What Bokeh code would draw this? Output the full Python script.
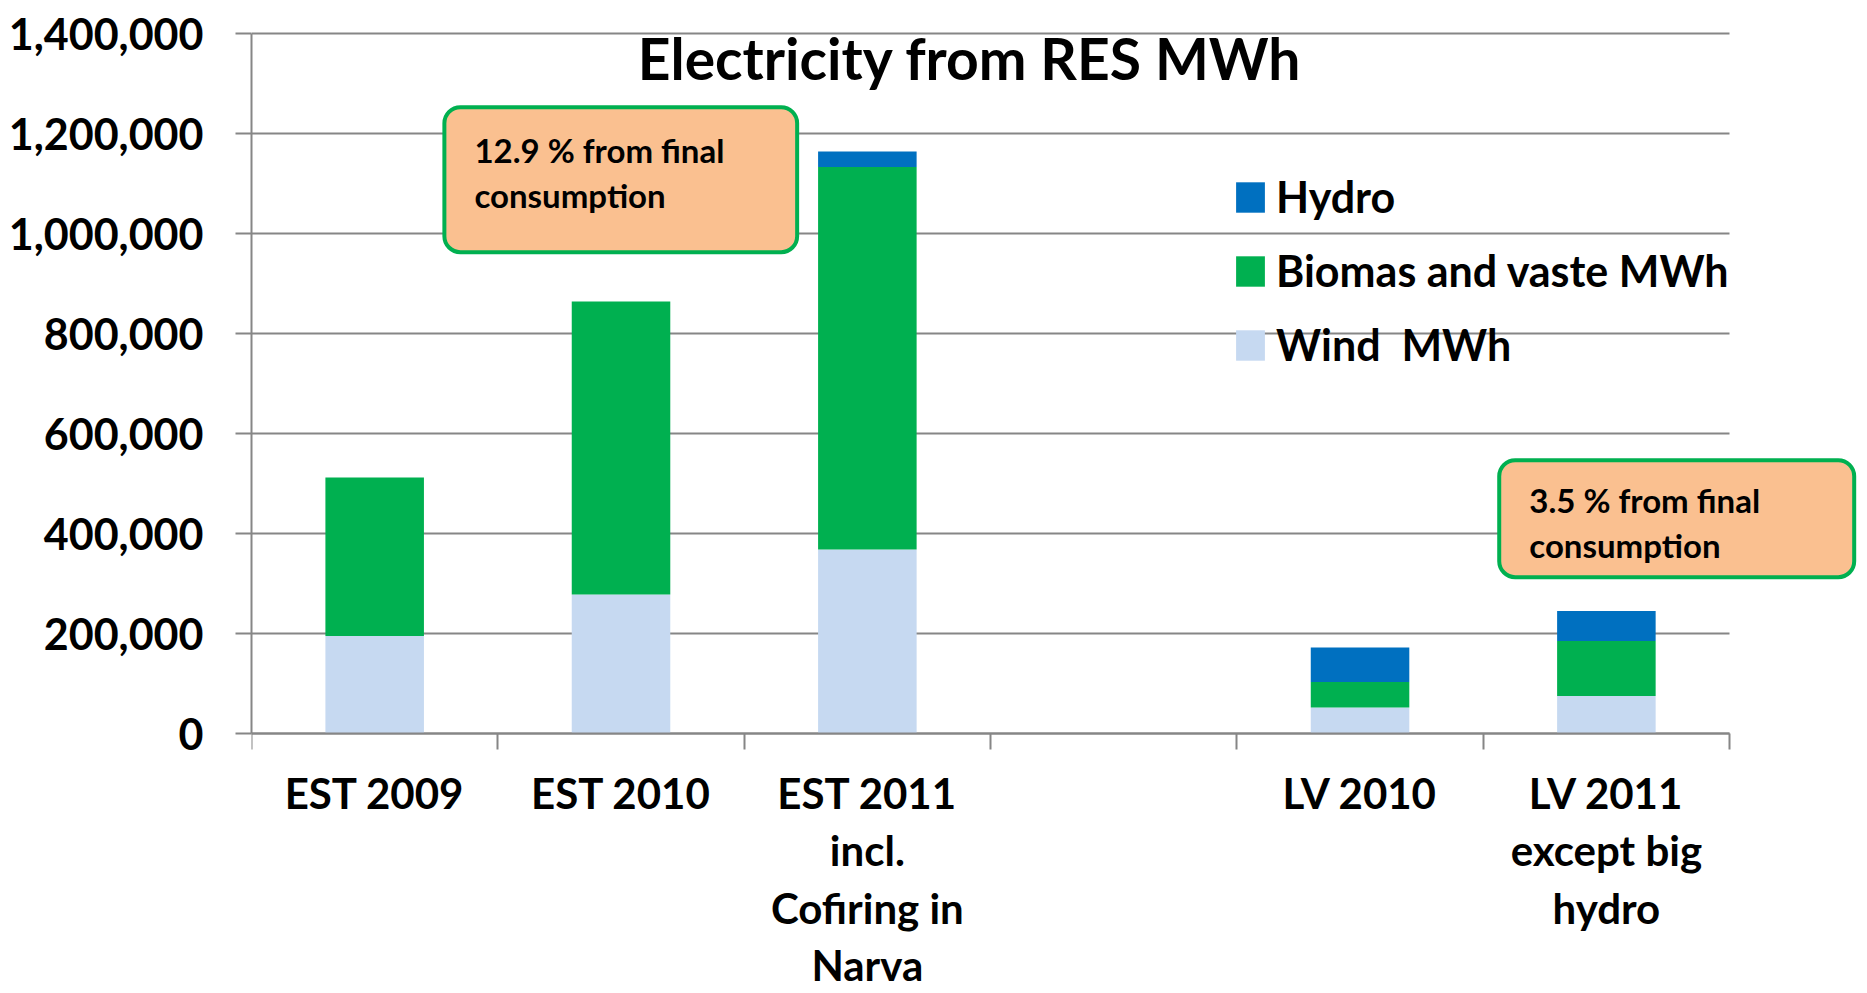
from bokeh.plotting import figure
from bokeh.models import (ColumnDataSource, FixedTicker, Legend, LegendItem, Label,
                          BoxAnnotation, Range1d, NumeralTickFormatter, CustomJSTickFormatter)
from bokeh.embed import file_html
from bokeh.resources import INLINE

# ---- data ----
categories = ["EST 2009", "EST 2010", "EST 2011\nincl.\nCofiring in\nNarva", "",
              "LV 2010", "LV 2011\nexcept big\nhydro"]
wind_mwh = [195000, 278000, 368000, 0, 52000, 75000]
biomass_mwh = [317000, 586000, 765000, 0, 51000, 110000]
hydro_mwh = [0, 0, 31000, 0, 69000, 60000]
series_names = ["Wind  MWh", "Biomas and vaste MWh", "Hydro"]
y_tick_values = [0, 200000, 400000, 600000, 800000, 1000000, 1200000, 1400000]
chart_title = "Electricity from RES MWh"
note_texts = ["12.9 % from final\nconsumption", "3.5 % from final\nconsumption"]

# ---- style ----
FONT = "Lato"
GRID = "#868686"
colors = ["#C6D9F1", "#00B050", "#0070C0"]

n = len(categories)
x_pos = [i + 0.5 for i in range(n)]
label_ticks = [xp for xp, c in zip(x_pos, categories) if c]
src = ColumnDataSource(dict(x=x_pos, wind=wind_mwh, biomass=biomass_mwh, hydro=hydro_mwh))

p = figure(width=1867, height=993, output_backend="svg", toolbar_location=None,
           x_range=Range1d(0, 6.56), y_range=Range1d(-520000, 1406000),
           min_border_left=251, min_border_right=0, min_border_top=30,
           min_border_bottom=0)
p.outline_line_color = None

renderers = p.vbar_stack(["wind", "biomass", "hydro"], x="x", width=0.4,
                         color=colors, line_color=None, source=src)

# y axis
yax = p.yaxis[0]
yax.ticker = FixedTicker(ticks=y_tick_values)
yax.formatter = NumeralTickFormatter(format="0,0")
yax.bounds = (0, y_tick_values[-1])
yax.major_label_text_font = FONT
yax.major_label_text_font_style = "bold"
yax.major_label_text_font_size = "43px"
yax.major_label_text_color = "black"
yax.axis_line_color = GRID
yax.axis_line_width = 2
yax.major_tick_out = 16
yax.major_tick_in = 0
yax.major_tick_line_color = GRID
yax.major_tick_line_width = 2
yax.minor_tick_line_color = None
yax.major_label_standoff = 32

p.xgrid.grid_line_color = None
p.ygrid.ticker = FixedTicker(ticks=y_tick_values)
p.ygrid.grid_line_color = GRID
p.ygrid.grid_line_width = 2
try:
    p.ygrid.cross_bounds = (0, n)
except AttributeError:
    p.ygrid.grid_line_color = None
    p.segment(x0=[0] * len(y_tick_values), x1=[n] * len(y_tick_values),
              y0=y_tick_values, y1=y_tick_values, line_color=GRID, line_width=2,
              level="underlay")

# x axis at y = 0: tick marks between categories, labels at centres
xax = p.xaxis[0]
xax.fixed_location = 0
xax.bounds = (0, n)
xax.ticker = FixedTicker(ticks=label_ticks, minor_ticks=list(range(n + 1)))
xax.formatter = CustomJSTickFormatter(args=dict(labels=categories),
                                      code="return labels[Math.floor(tick)] || ''")
xax.major_tick_out = 0
xax.major_tick_in = 0
xax.major_tick_line_color = None
xax.minor_tick_out = 16
xax.minor_tick_in = 0
xax.minor_tick_line_color = GRID
xax.minor_tick_line_width = 2
xax.axis_line_color = GRID
xax.axis_line_width = 2
xax.major_label_standoff = 18
xax.major_label_text_font = FONT
xax.major_label_text_font_style = "bold"
xax.major_label_text_font_size = "42px"
xax.major_label_text_color = "black"
xax.major_label_text_line_height = 1.15

# legend
items = [LegendItem(label=series_names[i], renderers=[renderers[i]]) for i in (2, 1, 0)]
legend = Legend(items=items, location=(981, 623), orientation="vertical",
                glyph_width=36, glyph_height=38, label_standoff=8, spacing=23,
                padding=0, margin=0, border_line_color=None, background_fill_alpha=0,
                label_text_font=FONT, label_text_font_style="bold",
                label_text_font_size="43px", label_text_color="black")
p.add_layout(legend)

# title
p.add_layout(Label(x=2.916, y=1352000, text=chart_title, text_align="center",
                   text_baseline="middle", text_font=FONT, text_font_style="bold",
                   text_font_size="57px", text_color="black"))

# note boxes
boxes = [(0.783, 2.215, 1252600, 962600), (5.065, 6.506, 546600, 312600)]
text_pos = [(0.905, 1122000), (5.187, 421600)]
for (l, r, t, b), (tx, ty), txt in zip(boxes, text_pos, note_texts):
    p.add_layout(BoxAnnotation(left=l, right=r, top=t, bottom=b,
                               fill_color="#FAC090", fill_alpha=1,
                               line_color="#00B050", line_alpha=1, line_width=4,
                               border_radius=16))
    p.add_layout(Label(x=tx, y=ty, text=txt, text_align="left", text_baseline="middle",
                       text_font=FONT, text_font_style="bold", text_font_size="33px",
                       text_line_height=1.14, text_color="black"))

open("out.html", "w").write(file_html(p, INLINE))
